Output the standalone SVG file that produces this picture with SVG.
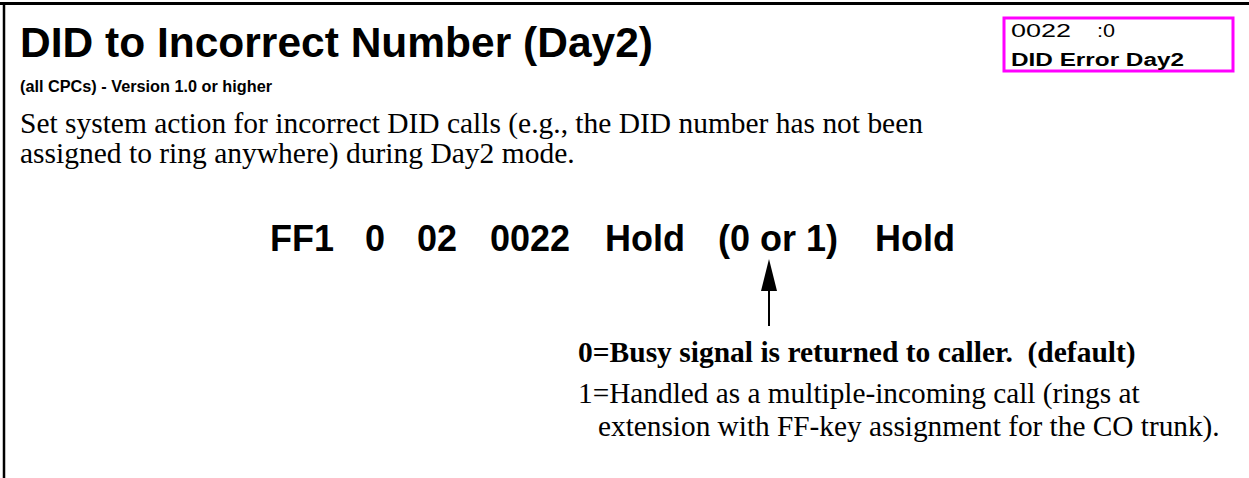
<svg xmlns="http://www.w3.org/2000/svg" width="1249" height="478" viewBox="0 0 1249 478">
<style>
.sans{font-family:"Liberation Sans",Arial,sans-serif;fill:#000}
.serif{font-family:"Liberation Serif","Times New Roman",serif;fill:#000}
.b{font-weight:bold}
.cmd{font-family:"Liberation Sans",Arial,sans-serif;font-weight:bold;font-size:36px;fill:#000}
</style>
<rect width="1249" height="478" fill="#fff"/>
<g id="frame">
<line x1="0" y1="3.5" x2="1249" y2="3.5" stroke="#000" stroke-width="3"/>
<line x1="4" y1="2" x2="4" y2="478" stroke="#000" stroke-width="2.5"/>
</g>
<g id="header">
<text class="sans b" x="20" y="57" font-size="42" textLength="633" lengthAdjust="spacingAndGlyphs">DID to Incorrect Number (Day2)</text>
<text class="sans b" x="20" y="92" font-size="16" textLength="252" lengthAdjust="spacingAndGlyphs">(all CPCs) - Version 1.0 or higher</text>
<text class="serif" x="20" y="133" font-size="29.5" textLength="903" lengthAdjust="spacingAndGlyphs">Set system action for incorrect DID calls (e.g., the DID number has not been</text>
<text class="serif" x="20" y="163" font-size="29.5">assigned to ring anywhere) during Day2 mode.</text>
</g>
<g id="display">
<rect x="1004" y="18" width="229" height="53" fill="#fff" stroke="#ff00ff" stroke-width="3"/>
<text class="sans" x="1011" y="37" font-size="19" textLength="60" lengthAdjust="spacingAndGlyphs">0022</text>
<text class="sans" x="1097" y="37" font-size="19" textLength="18" lengthAdjust="spacingAndGlyphs">:0</text>
<text class="sans b" x="1011" y="66" font-size="18" textLength="173" lengthAdjust="spacingAndGlyphs">DID Error Day2</text>
</g>
<g id="command">
<text class="cmd" x="270" y="251">FF1</text>
<text class="cmd" x="365" y="251">0</text>
<text class="cmd" x="417" y="251">02</text>
<text class="cmd" x="490" y="251">0022</text>
<text class="cmd" x="605" y="251">Hold</text>
<text class="cmd" x="718" y="251">(0 or 1)</text>
<text class="cmd" x="875" y="251">Hold</text>
</g>
<g id="connectors">
<line x1="769" y1="326" x2="769" y2="288" stroke="#000" stroke-width="2"/>
<polygon points="769,259 761,291 777,291" fill="#000"/>
</g>
<g id="options">
<text class="serif b" x="578" y="362" font-size="29.5" xml:space="preserve">0=Busy signal is returned to caller.  (default)</text>
<text class="serif" x="578" y="403" font-size="29.3">1=Handled as a multiple-incoming call (rings at</text>
<text class="serif" x="598" y="436" font-size="29.3">extension with FF-key assignment for the CO trunk).</text>
</g>
</svg>
